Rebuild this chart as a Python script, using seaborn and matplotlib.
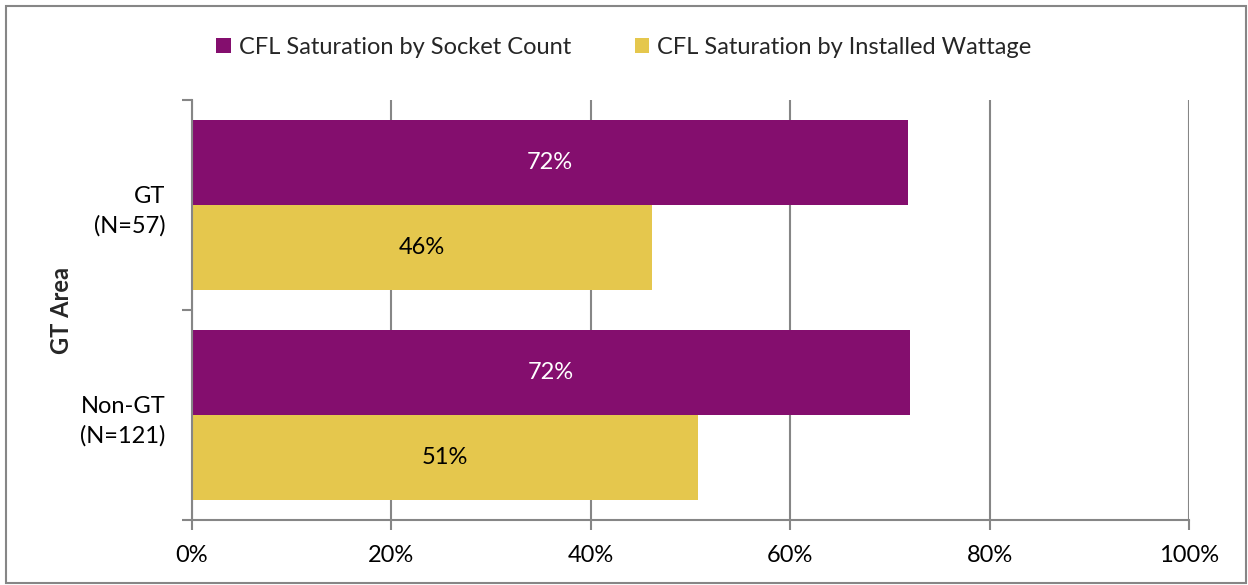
import matplotlib
matplotlib.use("Agg")
import matplotlib.pyplot as plt
from matplotlib.patches import Rectangle
import seaborn as sns
import pandas as pd

# Data
areas = ["GT\n(N=57)", "Non-GT\n(N=121)"]
series = ["CFL Saturation by Socket Count", "CFL Saturation by Installed Wattage"]
socket_count = [71.8, 72.0]
installed_wattage = [46.1, 50.8]
x_ticks = [0, 20, 40, 60, 80, 100]
x_tick_labels = ["0%", "20%", "40%", "60%", "80%", "100%"]

colors = ["#840E6E", "#E5C74D"]
label_colors = ["white", "black"]
FS = 17

df = pd.DataFrame({
    "area": areas * 2,
    "series": [series[0]] * 2 + [series[1]] * 2,
    "value": socket_count + installed_wattage,
})

sns.set_theme(style="white")
plt.rcParams["font.family"] = ["Lato", "DejaVu Sans"]

fig = plt.figure(figsize=(12.48, 5.85), dpi=100)
ax = fig.add_axes([192 / 1248, 65 / 585, (1189 - 192) / 1248, (520 - 100) / 585])

sns.barplot(data=df, y="area", x="value", hue="series", orient="h",
            palette=colors, width=0.81, ax=ax, saturation=1,
            edgecolor="none", linewidth=0, errorbar=None, legend=True)

# Value labels centred in each bar
for cont, col in zip(ax.containers, label_colors):
    ax.bar_label(cont, labels=[f"{v:.0f}%" for v in cont.datavalues],
                 label_type="center", color=col, fontsize=FS)

ax.set_xlim(0, 100)
ax.set_ylim(1.5, -0.5)
ax.set_xticks(x_ticks)
ax.set_xticklabels(x_tick_labels, fontsize=FS, color="black")
ax.tick_params(axis="x", which="major", direction="out", length=7, width=1.5,
               color="#868686", pad=11, bottom=True)
ax.tick_params(axis="y", which="major", length=0, labelsize=FS, pad=19,
               labelcolor="black")
ax.set_yticks([-0.5, 0.5, 1.5], minor=True)
ax.tick_params(axis="y", which="minor", direction="out", length=7, width=1.5,
               color="#868686", left=True)
for lbl in ax.get_yticklabels():
    lbl.set_horizontalalignment("right")
    lbl.set_multialignment("right")
    lbl.set_linespacing(1.45)

ax.set_xlabel("")
ax.set_ylabel("GT Area", fontsize=FS, fontweight="bold", labelpad=5)

ax.grid(axis="x", color="#868686", linewidth=1.5)
ax.set_axisbelow(True)
for side in ["top", "right"]:
    ax.spines[side].set_visible(False)
for side in ["left", "bottom"]:
    ax.spines[side].set_color("#868686")
    ax.spines[side].set_linewidth(1.5)

handles, labels = ax.get_legend_handles_labels()
ax.get_legend().remove()
fig.legend(handles, labels, loc="center", bbox_to_anchor=(0.5, 1 - 47 / 585),
           ncol=2, frameon=False, fontsize=FS, handlelength=0.6,
           handleheight=0.6, handletextpad=0.35, columnspacing=2.7)

# Outer chart border
fig.patches.append(Rectangle((6 / 1248, 2 / 585), 1240 / 1248, 577 / 585,
                             transform=fig.transFigure, fill=False,
                             edgecolor="#868686", linewidth=1.5))

fig.savefig("out.png", dpi=100)
